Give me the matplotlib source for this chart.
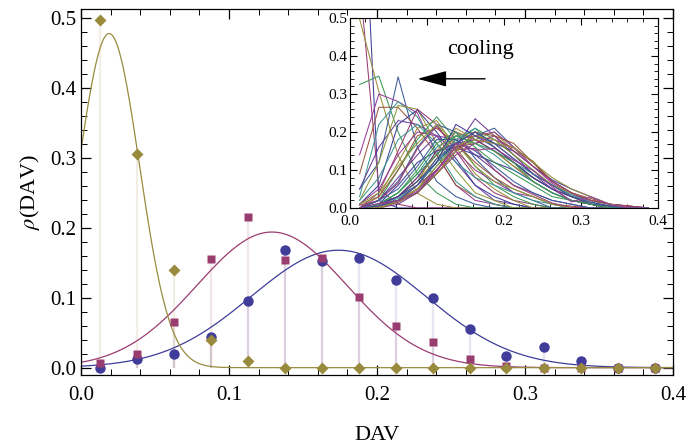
import numpy as np
import matplotlib
matplotlib.use("Agg")
from matplotlib import pyplot as plt
from matplotlib.ticker import MultipleLocator

plt.rcParams['font.family'] = ['Liberation Serif', 'DejaVu Serif']
plt.rcParams['mathtext.fontset'] = 'stix'

# bin centres of the DAV histograms
dav = [0.0125, 0.0375, 0.0625, 0.0875, 0.1125, 0.1375, 0.1625, 0.1875,
       0.2125, 0.2375, 0.2625, 0.2875, 0.3125, 0.3375, 0.3625, 0.3875]

# main panel: three histograms
rho_blue = [0.0, 0.0125, 0.019, 0.044, 0.096, 0.169, 0.152, 0.157,
            0.126, 0.099, 0.056, 0.016, 0.029, 0.009, 0.0, 0.0]
rho_magenta = [0.007, 0.02, 0.065, 0.156, 0.215, 0.154, 0.157, 0.101,
               0.059, 0.036, 0.013, 0.002, 0.0, 0.0, 0.0, 0.0]
rho_olive = [0.497, 0.306, 0.139, 0.039, 0.01, 0.0, 0.0, 0.0,
             0.0, 0.0, 0.0, 0.0, 0.0, 0.0, 0.0, 0.0]

# gaussian fits (amplitude, centre, width)
fit_blue = (0.168, 0.174, 0.059)
fit_magenta = (0.194, 0.129, 0.0507)
fit_olive = (0.478, 0.019, 0.0205)

# inset: histograms along the cooling run
inset_curves = [
    [1.06, 0.02, 0.0, 0, 0, 0, 0, 0, 0, 0, 0, 0, 0, 0, 0, 0],
    [0.60, 0.05, 0.01, 0, 0, 0, 0, 0, 0, 0, 0, 0, 0, 0, 0, 0],
    [0.497, 0.306, 0.139, 0.039, 0.01, 0, 0, 0, 0, 0, 0, 0, 0, 0, 0, 0],
    [0.325, 0.347, 0.20, 0.09, 0.04, 0.01, 0, 0, 0, 0, 0, 0, 0, 0, 0, 0],
    [0.05, 0.12, 0.345, 0.16, 0.07, 0.03, 0.01, 0, 0, 0, 0, 0, 0, 0, 0, 0],
    [0.14, 0.30, 0.28, 0.25, 0.14, 0.06, 0.02, 0.01, 0, 0, 0, 0, 0, 0, 0, 0],
    [0.09, 0.265, 0.265, 0.21, 0.14, 0.06, 0.03, 0.01, 0, 0, 0, 0, 0, 0, 0, 0],
    [0.03, 0.22, 0.28, 0.24, 0.15, 0.07, 0.03, 0.01, 0, 0, 0, 0, 0, 0, 0, 0],
    [0.05, 0.16, 0.23, 0.22, 0.19, 0.12, 0.06, 0.02, 0.01, 0, 0, 0, 0, 0, 0, 0],
    [0.02, 0.12, 0.27, 0.26, 0.17, 0.10, 0.04, 0.02, 0, 0, 0, 0, 0, 0, 0, 0],
    [0.01, 0.06, 0.22, 0.258, 0.20, 0.13, 0.06, 0.03, 0.01, 0, 0, 0, 0, 0, 0, 0],
    [0.0, 0.04, 0.15, 0.26, 0.22, 0.15, 0.08, 0.04, 0.02, 0.01, 0, 0, 0, 0, 0, 0],
    [0.01, 0.03, 0.12, 0.21, 0.23, 0.16, 0.09, 0.05, 0.02, 0, 0, 0, 0, 0, 0, 0],
    [0.0, 0.02, 0.10, 0.18, 0.24, 0.18, 0.11, 0.06, 0.03, 0.01, 0, 0, 0, 0, 0, 0],
    [0.0, 0.02, 0.07, 0.16, 0.22, 0.20, 0.13, 0.08, 0.04, 0.02, 0, 0, 0, 0, 0, 0],
    [0.01, 0.05, 0.14, 0.20, 0.19, 0.15, 0.10, 0.07, 0.04, 0.03, 0.01, 0, 0, 0, 0, 0],
    [0.0, 0.03, 0.10, 0.19, 0.21, 0.17, 0.12, 0.08, 0.05, 0.03, 0.01, 0.005, 0, 0, 0, 0],
    [0.02, 0.08, 0.18, 0.22, 0.17, 0.12, 0.08, 0.06, 0.04, 0.02, 0.01, 0, 0, 0, 0, 0],
    [0.0, 0.02, 0.08, 0.14, 0.19, 0.18, 0.14, 0.10, 0.06, 0.04, 0.02, 0.01, 0, 0, 0, 0],
    [0.01, 0.04, 0.11, 0.17, 0.22, 0.17, 0.11, 0.07, 0.05, 0.03, 0.01, 0, 0, 0, 0, 0],
    [0.0, 0.01, 0.06, 0.12, 0.15, 0.16, 0.14, 0.12, 0.10, 0.07, 0.04, 0.02, 0.01, 0, 0, 0],
    [0.007, 0.02, 0.065, 0.156, 0.215, 0.154, 0.157, 0.101, 0.059, 0.036, 0.013, 0.002, 0, 0, 0, 0],
    [0, 0.01, 0.03, 0.07, 0.13, 0.19, 0.20, 0.16, 0.12, 0.08, 0.05, 0.03, 0.01, 0.005, 0, 0],
    [0, 0.01, 0.02, 0.05, 0.11, 0.17, 0.21, 0.18, 0.14, 0.10, 0.06, 0.03, 0.015, 0.005, 0, 0],
    [0, 0.0, 0.02, 0.04, 0.09, 0.15, 0.19, 0.21, 0.16, 0.12, 0.07, 0.04, 0.02, 0.01, 0, 0],
    [0, 0.005, 0.02, 0.06, 0.12, 0.18, 0.19, 0.17, 0.13, 0.09, 0.06, 0.03, 0.02, 0.01, 0, 0],
    [0, 0.01, 0.03, 0.08, 0.14, 0.20, 0.18, 0.15, 0.11, 0.07, 0.04, 0.02, 0.01, 0, 0, 0],
    [0, 0.01, 0.04, 0.09, 0.16, 0.19, 0.17, 0.14, 0.10, 0.07, 0.04, 0.02, 0.01, 0, 0, 0],
    [0, 0.0, 0.01, 0.04, 0.10, 0.16, 0.235, 0.19, 0.14, 0.09, 0.05, 0.03, 0.015, 0.005, 0, 0],
    [0, 0.005, 0.015, 0.05, 0.10, 0.16, 0.18, 0.20, 0.15, 0.124, 0.07, 0.04, 0.02, 0.01, 0, 0],
    [0, 0.01, 0.03, 0.06, 0.12, 0.17, 0.20, 0.17, 0.15, 0.11, 0.074, 0.05, 0.03, 0.01, 0.005, 0],
    [0, 0.005, 0.02, 0.05, 0.09, 0.14, 0.17, 0.18, 0.158, 0.12, 0.07, 0.04, 0.02, 0.01, 0.005, 0],
    [0, 0.01, 0.03, 0.07, 0.15, 0.21, 0.18, 0.15, 0.11, 0.08, 0.05, 0.03, 0.01, 0.005, 0, 0],
    [0, 0.01, 0.04, 0.10, 0.17, 0.20, 0.16, 0.12, 0.09, 0.06, 0.03, 0.02, 0.01, 0, 0, 0],
    [0, 0.02, 0.05, 0.11, 0.18, 0.18, 0.15, 0.11, 0.07, 0.04, 0.02, 0.01, 0, 0, 0, 0],
    [0, 0.005, 0.02, 0.05, 0.10, 0.15, 0.19, 0.20, 0.16, 0.11, 0.065, 0.035, 0.02, 0.01, 0, 0],
    [0, 0.0, 0.015, 0.04, 0.09, 0.15, 0.20, 0.19, 0.17, 0.12, 0.07, 0.04, 0.025, 0.01, 0.005, 0],
    [0, 0.01, 0.025, 0.06, 0.12, 0.18, 0.21, 0.16, 0.12, 0.09, 0.06, 0.035, 0.015, 0.005, 0, 0],
    [0, 0.01, 0.03, 0.08, 0.15, 0.17, 0.18, 0.15, 0.12, 0.08, 0.05, 0.02, 0.01, 0, 0, 0],
    [0, 0.0, 0.02, 0.05, 0.11, 0.16, 0.19, 0.18, 0.14, 0.10, 0.06, 0.04, 0.02, 0.01, 0, 0],
    [0, 0.01, 0.03, 0.07, 0.12, 0.22, 0.19, 0.16, 0.12, 0.08, 0.05, 0.03, 0.01, 0.005, 0, 0],
    [0, 0.01, 0.02, 0.06, 0.10, 0.16, 0.17, 0.19, 0.15, 0.11, 0.07, 0.04, 0.02, 0.01, 0.005, 0],
    [0, 0.0, 0.02, 0.05, 0.09, 0.15, 0.18, 0.17, 0.16, 0.12, 0.08, 0.05, 0.03, 0.01, 0, 0],
    [0, 0.01, 0.04, 0.09, 0.14, 0.19, 0.17, 0.15, 0.12, 0.07, 0.04, 0.02, 0.01, 0, 0, 0],
    [0, 0.005, 0.02, 0.06, 0.13, 0.17, 0.20, 0.17, 0.13, 0.09, 0.06, 0.03, 0.015, 0.005, 0, 0],
    [0.0, 0.0125, 0.019, 0.044, 0.096, 0.169, 0.152, 0.157, 0.126, 0.099, 0.056, 0.016, 0.029, 0.009, 0, 0],
]

# mathematica-like default palette
palette = ['#3f3d99', '#993d71', '#998c3d', '#3d9956', '#3d5a99',
           '#993d99', '#99583d', '#3d9993', '#6b3d99', '#8e993d']

c_blue = (0.247, 0.24, 0.6)
c_magenta = (0.6, 0.24, 0.443)
c_olive = (0.6, 0.547, 0.24)


def gauss(x, p):
    a, m, s = p
    return a * np.exp(-(x - m) ** 2 / (2 * s ** 2))


fig = plt.figure(figsize=(6.88, 4.48), dpi=100)
ax = fig.add_axes([81 / 688, 1 - 375 / 448, 592 / 688, 366 / 448])

x = np.array(dav)
# stems
for y, c in [(rho_blue, c_blue), (rho_magenta, c_magenta), (rho_olive, c_olive)]:
    ax.vlines(x, 0, y, colors=[c + (0.13,)], lw=1.6, zorder=1)

xf = np.linspace(0, 0.4, 400)
ax.plot(xf, gauss(xf, fit_blue), color=c_blue, lw=0.9, zorder=2)
ax.plot(xf, gauss(xf, fit_magenta), color=c_magenta, lw=0.9, zorder=2)
ax.plot(xf, gauss(xf, fit_olive), color=c_olive, lw=0.9, zorder=2)

ax.plot(x, rho_blue, 'o', color=c_blue, ms=7.5, mec='none', zorder=3)
ax.plot(x, rho_magenta, 's', color=c_magenta, ms=6.3, mec='none', zorder=4)
ax.plot(x, rho_olive, 'D', color=c_olive, ms=6, mec='none', zorder=5)

ax.set_xlim(0, 0.4)
ax.set_ylim(-0.0105, 0.513)
ax.xaxis.set_major_locator(MultipleLocator(0.1))
ax.xaxis.set_minor_locator(MultipleLocator(0.02))
ax.yaxis.set_major_locator(MultipleLocator(0.1))
ax.yaxis.set_minor_locator(MultipleLocator(0.02))
ax.xaxis.set_major_formatter(lambda v, p: '%.1f' % v)
ax.yaxis.set_major_formatter(lambda v, p: '%.1f' % v)
ax.tick_params(which='both', direction='in', top=True, right=True, labelsize=15)
ax.tick_params(which='major', length=7, width=0.9)
ax.tick_params(which='minor', length=4, width=0.7)
ax.tick_params(axis='x', pad=8)
for s in ax.spines.values():
    s.set_linewidth(0.9)
ax.set_xlabel('DAV', fontsize=16, labelpad=15)
ax.set_ylabel(r'$\rho$(DAV)', fontsize=16, labelpad=6)

# inset
ins = fig.add_axes([350 / 688, 1 - 208 / 448, 308 / 688, 190 / 448])
for i, y in enumerate(inset_curves):
    ins.plot(x, y, color=palette[i % len(palette)], lw=0.75)
ins.set_xlim(0, 0.4)
ins.set_ylim(0, 0.5)
ins.xaxis.set_major_locator(MultipleLocator(0.1))
ins.xaxis.set_minor_locator(MultipleLocator(0.02))
ins.yaxis.set_major_locator(MultipleLocator(0.1))
ins.yaxis.set_minor_locator(MultipleLocator(0.02))
ins.xaxis.set_major_formatter(lambda v, p: '%.1f' % v)
ins.yaxis.set_major_formatter(lambda v, p: '%.1f' % v)
ins.tick_params(which='both', direction='in', top=True, right=True, labelsize=11)
ins.tick_params(axis='y', pad=2)
ins.tick_params(axis='x', pad=5)
ins.tick_params(which='major', length=5, width=0.8)
ins.tick_params(which='minor', length=3, width=0.6)
for s in ins.spines.values():
    s.set_linewidth(0.8)

ins.text(0.169, 0.416, 'cooling', fontsize=16, ha='center', va='center')
ins.annotate('', xy=(0.084, 0.34), xytext=(0.179, 0.34),
             arrowprops=dict(arrowstyle='-|>,head_length=1.3,head_width=0.35',
                             color='black', lw=1.0, mutation_scale=14))

fig.savefig('out.png', dpi=100)
